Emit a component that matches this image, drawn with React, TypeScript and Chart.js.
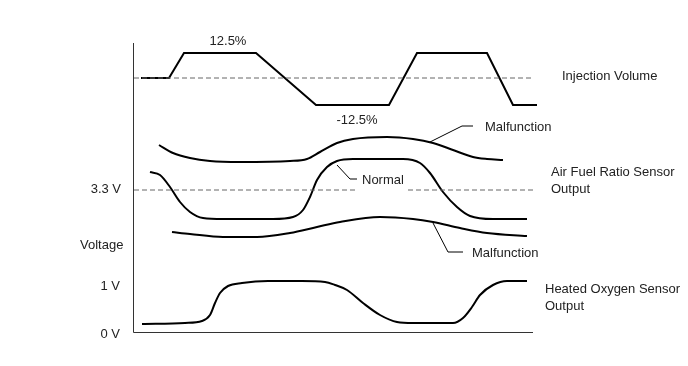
import React, { useEffect, useRef } from "react";
import { Chart, registerables } from "chart.js";

Chart.register(...registerables);

// x: time units (0..400), y: diagram level units (0 = voltage axis baseline)
const injectionX = [8, 36, 51, 123, 183, 256, 284, 354, 380, 404];
const injectionY = [254, 254, 279, 279, 227, 227, 279, 279, 227, 227];

const richX = [26, 40, 57, 77, 107, 157, 174, 187, 204, 220, 254, 280, 300, 320, 340, 354, 370];
const richY = [187, 179, 174, 171, 170, 171, 173, 180, 189, 193, 195, 193, 189, 182, 175, 173, 172];

const normalX = [17, 27, 37, 47, 57, 70, 90, 140, 160, 170, 177, 184, 194, 204, 220, 270, 287, 297, 310, 324, 337, 360, 394];
const normalY = [160, 157, 145, 130, 120, 114, 113, 113, 115, 122, 135, 152, 165, 171, 173, 173, 169, 159, 140, 125, 116, 113, 113];

const leanX = [39, 57, 90, 124, 157, 184, 207, 247, 280, 300, 327, 354, 394];
const leanY = [100, 98, 95, 95, 99, 105, 110, 115, 113, 110, 104, 99, 96];

const ho2sX = [9, 52, 69, 77, 82, 87, 95, 109, 135, 169, 192, 202, 214, 230, 247, 264, 280, 320, 330, 339, 347, 360, 374, 394];
const ho2sY = [8, 9, 11, 17, 29, 39, 46, 49, 51, 51, 50, 47, 42, 29, 17, 10, 9, 9, 14, 25, 37, 47, 51, 51];

const injectionRefX = [1, 400];
const injectionRefY = [254, 254];
const afRefX = [1, 225, 250, 275, 400];
const afRefY: (number | null)[] = [142, 142, null, 142, 142];

const leaderUpperX = [297, 329, 340];
const leaderUpperY = [190, 206, 206];
const leaderNormalX = [204, 217, 224];
const leaderNormalY = [167, 153, 153];
const leaderLowerX = [300, 315, 330];
const leaderLowerY = [109, 80, 80];

const labelTexts = ["12.5%", "-12.5%", "Malfunction", "Normal", "Malfunction", "Injection Volume", "Air Fuel Ratio Sensor", "Output", "Heated Oxygen Sensor", "Output", "3.3 V", "Voltage", "1 V", "0 V"];
const labelX = [95, 224, 352, 229, 339, 429, 418, 418, 412, 412, -12, -53, -13, -13];
const labelY = [291, 212, 205, 152, 79, 256, 160, 143, 43, 26, 143, 87, 46, -2];
const labelAlign = ["center", "center", "left", "left", "left", "left", "left", "left", "left", "left", "right", "left", "right", "right"];

const pts = (xs: number[], ys: (number | null)[]) => xs.map((x, i) => ({ x, y: ys[i] }));

export default function App() {
  const ref = useRef<HTMLCanvasElement>(null);
  useEffect(() => {
    if (!ref.current) return;
    const curve = (data: any) => ({
      data,
      borderColor: "#000",
      borderWidth: 2,
      pointRadius: 0,
      fill: false,
      tension: 0.4,
      cubicInterpolationMode: "monotone",
    });
    const straight = (data: any, w: number) => ({
      data,
      borderColor: "#000",
      borderWidth: w,
      pointRadius: 0,
      fill: false,
      tension: 0,
    });
    const dashed = (data: any) => ({
      data,
      borderColor: "#666",
      borderWidth: 1,
      borderDash: [5, 3],
      pointRadius: 0,
      fill: false,
      tension: 0,
      spanGaps: false,
    });
    const overlay = {
      id: "overlay",
      beforeDatasetsDraw(chart: any) {
        const { ctx, chartArea } = chart;
        ctx.save();
        ctx.strokeStyle = "#333";
        ctx.lineWidth = 1;
        ctx.beginPath();
        ctx.moveTo(chartArea.left + 0.5, chartArea.top);
        ctx.lineTo(chartArea.left + 0.5, chartArea.bottom + 0.5);
        ctx.lineTo(chartArea.right, chartArea.bottom + 0.5);
        ctx.stroke();
        ctx.restore();
      },
      afterDatasetsDraw(chart: any) {
        const { ctx } = chart;
        const xs = chart.scales.x;
        const ys = chart.scales.y;
        ctx.save();
        ctx.fillStyle = "#222";
        ctx.font = "13px 'Liberation Sans', Arial, sans-serif";
        ctx.textBaseline = "middle";
        labelTexts.forEach((t, i) => {
          ctx.textAlign = labelAlign[i];
          ctx.fillText(t, xs.getPixelForValue(labelX[i]), ys.getPixelForValue(labelY[i]));
        });
        ctx.restore();
      },
    };
    const chart = new Chart(ref.current, {
      type: "line",
      data: {
        datasets: [
          dashed(pts(injectionRefX, injectionRefY)),
          dashed(pts(afRefX, afRefY)),
          straight(pts(injectionX, injectionY), 2),
          curve(pts(richX, richY)),
          curve(pts(normalX, normalY)),
          curve(pts(leanX, leanY)),
          curve(pts(ho2sX, ho2sY)),
          straight(pts(leaderUpperX, leaderUpperY), 1),
          straight(pts(leaderNormalX, leaderNormalY), 1),
          straight(pts(leaderLowerX, leaderLowerY), 1),
        ] as any,
      },
      options: {
        animation: false,
        responsive: false,
        devicePixelRatio: 1,
        layout: { padding: { left: 133, right: 155, top: 43, bottom: 34 } },
        scales: {
          x: { type: "linear", min: 0, max: 400, display: false },
          y: { type: "linear", min: 0, max: 289, display: false },
        },
        plugins: { legend: { display: false }, tooltip: { enabled: false } },
        clip: false as any,
      },
      plugins: [overlay],
    });
    return () => chart.destroy();
  }, []);
  return (
    <div style={{ position: "absolute", left: 0, top: 0, width: 688, height: 366, background: "#fff" }}>
      <canvas ref={ref} width={688} height={366} />
    </div>
  );
}
